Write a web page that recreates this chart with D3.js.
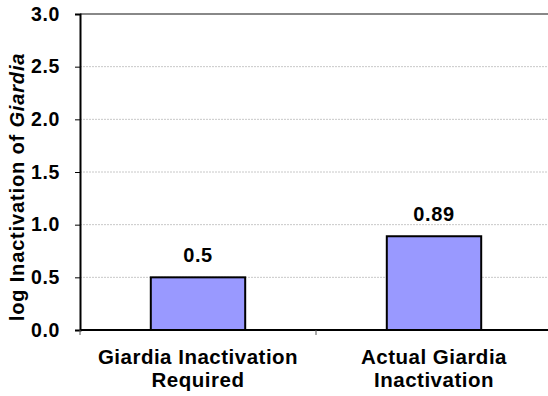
<!DOCTYPE html>
<html>
<head>
<meta charset="utf-8">
<script src="https://cdn.jsdelivr.net/npm/d3@7"></script>
<style>
  html, body { margin: 0; padding: 0; background: #fff; }
  svg { display: block; font-family: "Liberation Sans", Arial, sans-serif; }
</style>
</head>
<body>
<svg id="chart" width="548" height="396"></svg>
<script>
// Chart data
const categories = [["Giardia Inactivation", "Required"], ["Actual Giardia", "Inactivation"]];
const values = [0.5, 0.89];
const valueLabels = ["0.5", "0.89"];
const yTicks = [0, 0.5, 1.0, 1.5, 2.0, 2.5, 3.0];

const svg = d3.select("#chart");
const plotLeft = 80, plotRight = 552, plotTop = 14, plotBottom = 330;

const x = d3.scaleBand().domain(d3.range(categories.length)).range([plotLeft, plotRight]).padding(0);
const y = d3.scaleLinear().domain([0, 3]).range([plotBottom, plotTop]);
const barW = x.bandwidth() * 0.4;

// Horizontal gridlines
svg.append("g").selectAll("line")
  .data(yTicks.filter(t => t > 0 && t < 3))
  .join("line")
  .attr("x1", plotLeft).attr("x2", 548)
  .attr("y1", d => y(d)).attr("y2", d => y(d))
  .attr("stroke", "#c8c8c8").attr("stroke-width", 1)
  .attr("stroke-dasharray", "2,1");

// Top border at the axis maximum
svg.append("line")
  .attr("x1", plotLeft).attr("x2", 548)
  .attr("y1", y(3)).attr("y2", y(3))
  .attr("stroke", "#888").attr("stroke-width", 2);

// Bars
svg.append("g").selectAll("rect")
  .data(values)
  .join("rect")
  .attr("x", (d, i) => x(i) + (x.bandwidth() - barW) / 2)
  .attr("y", d => y(d))
  .attr("width", barW)
  .attr("height", d => y(0) - y(d))
  .attr("fill", "#9999ff")
  .attr("stroke", "#000").attr("stroke-width", 2);

// Value labels
svg.append("g").selectAll("text")
  .data(values)
  .join("text")
  .attr("x", (d, i) => x(i) + x.bandwidth() / 2)
  .attr("y", d => y(d) - 15)
  .attr("text-anchor", "middle")
  .attr("font-size", 20).attr("font-weight", "bold")
  .attr("letter-spacing", 0.6)
  .text((d, i) => valueLabels[i]);

// Y axis
const yAxis = svg.append("g")
  .attr("transform", `translate(${plotLeft},0)`)
  .call(d3.axisLeft(y).tickValues(yTicks).tickFormat(d3.format(".1f")).tickSize(5).tickPadding(15));
yAxis.select(".domain").attr("stroke", "#000").attr("stroke-width", 2);
yAxis.selectAll(".tick line").attr("stroke", "#000");
yAxis.selectAll(".tick text")
  .attr("font-size", 19.5).attr("font-weight", "bold").attr("fill", "#000")
  .attr("letter-spacing", 0.6)
  .attr("font-family", "Liberation Sans, Arial, sans-serif");

// X axis
const xAxis = svg.append("g")
  .attr("transform", `translate(0,${plotBottom})`);
xAxis.append("line")
  .attr("x1", plotLeft).attr("x2", 548)
  .attr("y1", 0).attr("y2", 0)
  .attr("stroke", "#000").attr("stroke-width", 2);
xAxis.selectAll("line.tk")
  .data(d3.range(categories.length + 1).map(i => plotLeft + i * x.bandwidth()))
  .join("line").attr("class", "tk")
  .attr("x1", d => d).attr("x2", d => d)
  .attr("y1", 0).attr("y2", 5)
  .attr("stroke", "#555").attr("stroke-width", 1);

// Category labels
const catText = svg.append("g").selectAll("text")
  .data(categories)
  .join("text")
  .attr("x", (d, i) => x(i) + x.bandwidth() / 2)
  .attr("y", 364)
  .attr("text-anchor", "middle")
  .attr("font-size", 20.5).attr("font-weight", "bold")
  .attr("letter-spacing", 0.5);
catText.each(function(d) {
  const t = d3.select(this);
  d.forEach((line, j) => {
    t.append("tspan")
      .attr("x", t.attr("x"))
      .attr("dy", j === 0 ? 0 : 23)
      .text(line);
  });
});

// Y axis title
const yTitle = svg.append("text")
  .attr("transform", `translate(24,187) rotate(-90)`)
  .attr("text-anchor", "middle")
  .attr("font-size", 20).attr("font-weight", "bold")
  .attr("letter-spacing", 0.85);
yTitle.append("tspan").text("log Inactivation of ");
yTitle.append("tspan").attr("font-style", "italic").text("Giardia");
</script>
</body>
</html>
